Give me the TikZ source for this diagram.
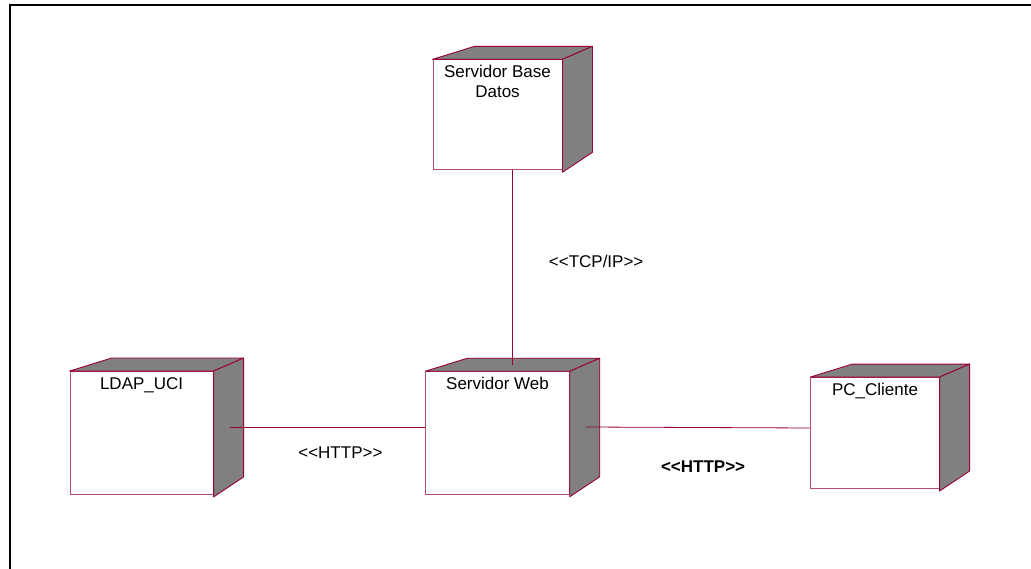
\documentclass[tikz,border=0pt]{standalone}
\usepackage{fontspec}
\setmainfont{Liberation Sans}
\usetikzlibrary{positioning}
\definecolor{rimred}{RGB}{153,0,51}
\definecolor{sidegray}{RGB}{128,128,128}
\newcommand{\stlt}{<\kern0pt<}
\newcommand{\stgt}{>\kern0pt>}

\begin{document}
\begin{tikzpicture}[x=1pt, y=-1pt,
    devbox/.style={rectangle, draw=rimred!70, fill=white, line width=0.9pt, inner sep=0pt},
    boxtitle/.style={anchor=north, align=center, inner sep=0pt, yshift=-6pt, font=\fontsize{17}{20}\selectfont},
    sideface/.style={draw=rimred, fill=sidegray, line width=0.9pt, line join=round},
    commline/.style={draw=rimred, line width=0.8pt},
    stereo/.style={font=\fontsize{17}{20}\selectfont, inner sep=0pt}
  ]
    \useasboundingbox (0,0) rectangle (1031,569);
    \draw[line width=2pt] (10,569) -- (10,5) -- (1031,5);

    \node (web) [devbox, minimum width=143.6pt, minimum height=122.6pt, label={[boxtitle]north:Servidor Web}] at (497.5,433) {};

    \node (ldap) [devbox, minimum width=143pt, minimum height=123pt, left=211.7pt of web, label={[boxtitle]north:LDAP\_UCI}] {};

    \node (pc) [devbox, minimum width=128.3pt, minimum height=111pt, right=240.7pt of web, label={[boxtitle]north:PC\_Cliente}] {};

    \node (db) [devbox, minimum width=129pt, minimum height=110pt, above=201pt of web, label={[boxtitle]north:{Servidor Base\\Datos}}] {};

    % depth faces of the nodes
    \foreach \n in {db,ldap,web,pc}{
      \filldraw[sideface] (\n.north west) -- ++(42pt,13pt) -- ([shift={(30pt,13pt)}]\n.north east) -- (\n.north east) -- cycle;
      \filldraw[sideface] (\n.north east) -- ([shift={(30pt,13pt)}]\n.north east) -- ([shift={(30pt,18pt)}]\n.south east) -- ([yshift=-2pt]\n.south east) -- cycle;
    }

    \draw[commline] ([xshift=15pt]db.south) -- ([xshift=15pt,yshift=6pt]web.north) node[stereo, midway, anchor=west, xshift=36pt, yshift=6pt] {\stlt TCP/IP\stgt};
    \draw[commline] ([xshift=16pt,yshift=6pt]ldap.east) -- ([yshift=6pt]web.west) node[stereo, midway, xshift=13pt, yshift=-26pt] {\stlt HTTP\stgt};
    \draw[commline] ([xshift=16pt,yshift=6pt]web.east) -- ([yshift=5pt]pc.west) node[stereo, midway, xshift=5pt, yshift=-39pt, font=\fontsize{17}{20}\selectfont\bfseries] {\stlt HTTP\stgt};

  \end{tikzpicture}
\end{document}
